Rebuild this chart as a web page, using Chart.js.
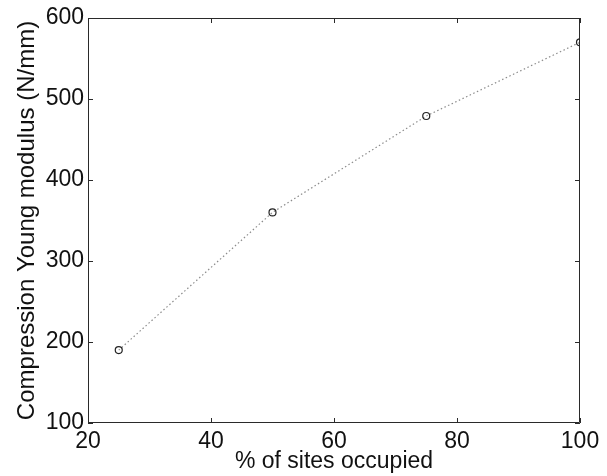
<!DOCTYPE html>
<html>
<head>
<meta charset="utf-8">
<script src="https://cdn.jsdelivr.net/npm/chart.js@4/dist/chart.umd.min.js"></script>
<style>
  html, body { margin: 0; padding: 0; background: #ffffff; }
  #wrap { width: 607px; height: 476px; }
</style>
</head>
<body>
<div id="wrap"><canvas id="modulusChart" width="607" height="476"></canvas></div>
<script>
// data
const sitesOccupied = [25, 50, 75, 100];
const youngModulus = [190, 360, 479, 570];
const xTicks = [20, 40, 60, 80, 100];
const yTicks = [100, 200, 300, 400, 500, 600];

const fontFamily = "'Liberation Sans', Arial, sans-serif";
const tickFont = { family: fontFamily, size: 23 };

// matlab style box with inward ticks on all four sides
const boxTicks = {
    id: 'boxTicks',
    afterDraw(chart) {
        const ctx = chart.ctx;
        const area = chart.chartArea;
        const xs = chart.scales.x;
        const ys = chart.scales.y;
        const len = 5;
        ctx.save();
        ctx.strokeStyle = '#2a2a2a';
        ctx.lineWidth = 1;
        ctx.beginPath();
        ctx.rect(area.left + 0.5, area.top + 0.5, area.right - area.left - 1, area.bottom - area.top - 1);
        xTicks.forEach(function(v) {
            const px = Math.round(xs.getPixelForValue(v)) + 0.5;
            ctx.moveTo(px, area.bottom);
            ctx.lineTo(px, area.bottom - len);
            ctx.moveTo(px, area.top);
            ctx.lineTo(px, area.top + len);
        });
        yTicks.forEach(function(v) {
            const py = Math.round(ys.getPixelForValue(v)) + 0.5;
            ctx.moveTo(area.left, py);
            ctx.lineTo(area.left + len, py);
            ctx.moveTo(area.right, py);
            ctx.lineTo(area.right - len, py);
        });
        ctx.stroke();
        ctx.restore();
    }
};

new Chart(document.getElementById('modulusChart'), {
    type: 'line',
    data: {
        datasets: [{
            data: sitesOccupied.map(function(x, i) { return { x: x, y: youngModulus[i] }; }),
            borderColor: '#8c8c8c',
            borderWidth: 1.2,
            borderDash: [1.5, 2.5],
            fill: false,
            tension: 0,
            pointRadius: 3.5,
            pointBorderWidth: 1.2,
            pointBorderColor: '#222222',
            pointBackgroundColor: 'rgba(0,0,0,0)'
        }]
    },
    options: {
        responsive: false,
        animation: false,
        layout: { padding: { top: 18, right: 27, left: 0, bottom: 0 } },
        plugins: {
            legend: { display: false },
            tooltip: { enabled: false }
        },
        scales: {
            x: {
                type: 'linear',
                min: 20,
                max: 100,
                afterBuildTicks: function(scale) {
                    scale.ticks = xTicks.map(function(v) { return { value: v }; });
                },
                afterFit: function(scale) { scale.height = 53; },
                grid: { display: false, drawTicks: false },
                border: { display: false },
                ticks: { color: '#111111', font: tickFont, padding: 5, maxRotation: 0 },
                title: {
                    display: true,
                    text: '% of sites occupied',
                    color: '#111111',
                    font: { family: fontFamily, size: 23 },
                    padding: { top: 0, bottom: 1 }
                }
            },
            y: {
                type: 'linear',
                min: 100,
                max: 600,
                afterBuildTicks: function(scale) {
                    scale.ticks = yTicks.map(function(v) { return { value: v }; });
                },
                afterFit: function(scale) { scale.width = 88; },
                grid: { display: false, drawTicks: false },
                border: { display: false },
                ticks: { color: '#111111', font: tickFont, padding: 4 },
                title: {
                    display: true,
                    text: 'Compression Young modulus (N/mm)',
                    color: '#111111',
                    font: { family: fontFamily, size: 24 },
                    padding: { top: 13, bottom: 0 }
                }
            }
        }
    },
    plugins: [boxTicks]
});
</script>
</body>
</html>
